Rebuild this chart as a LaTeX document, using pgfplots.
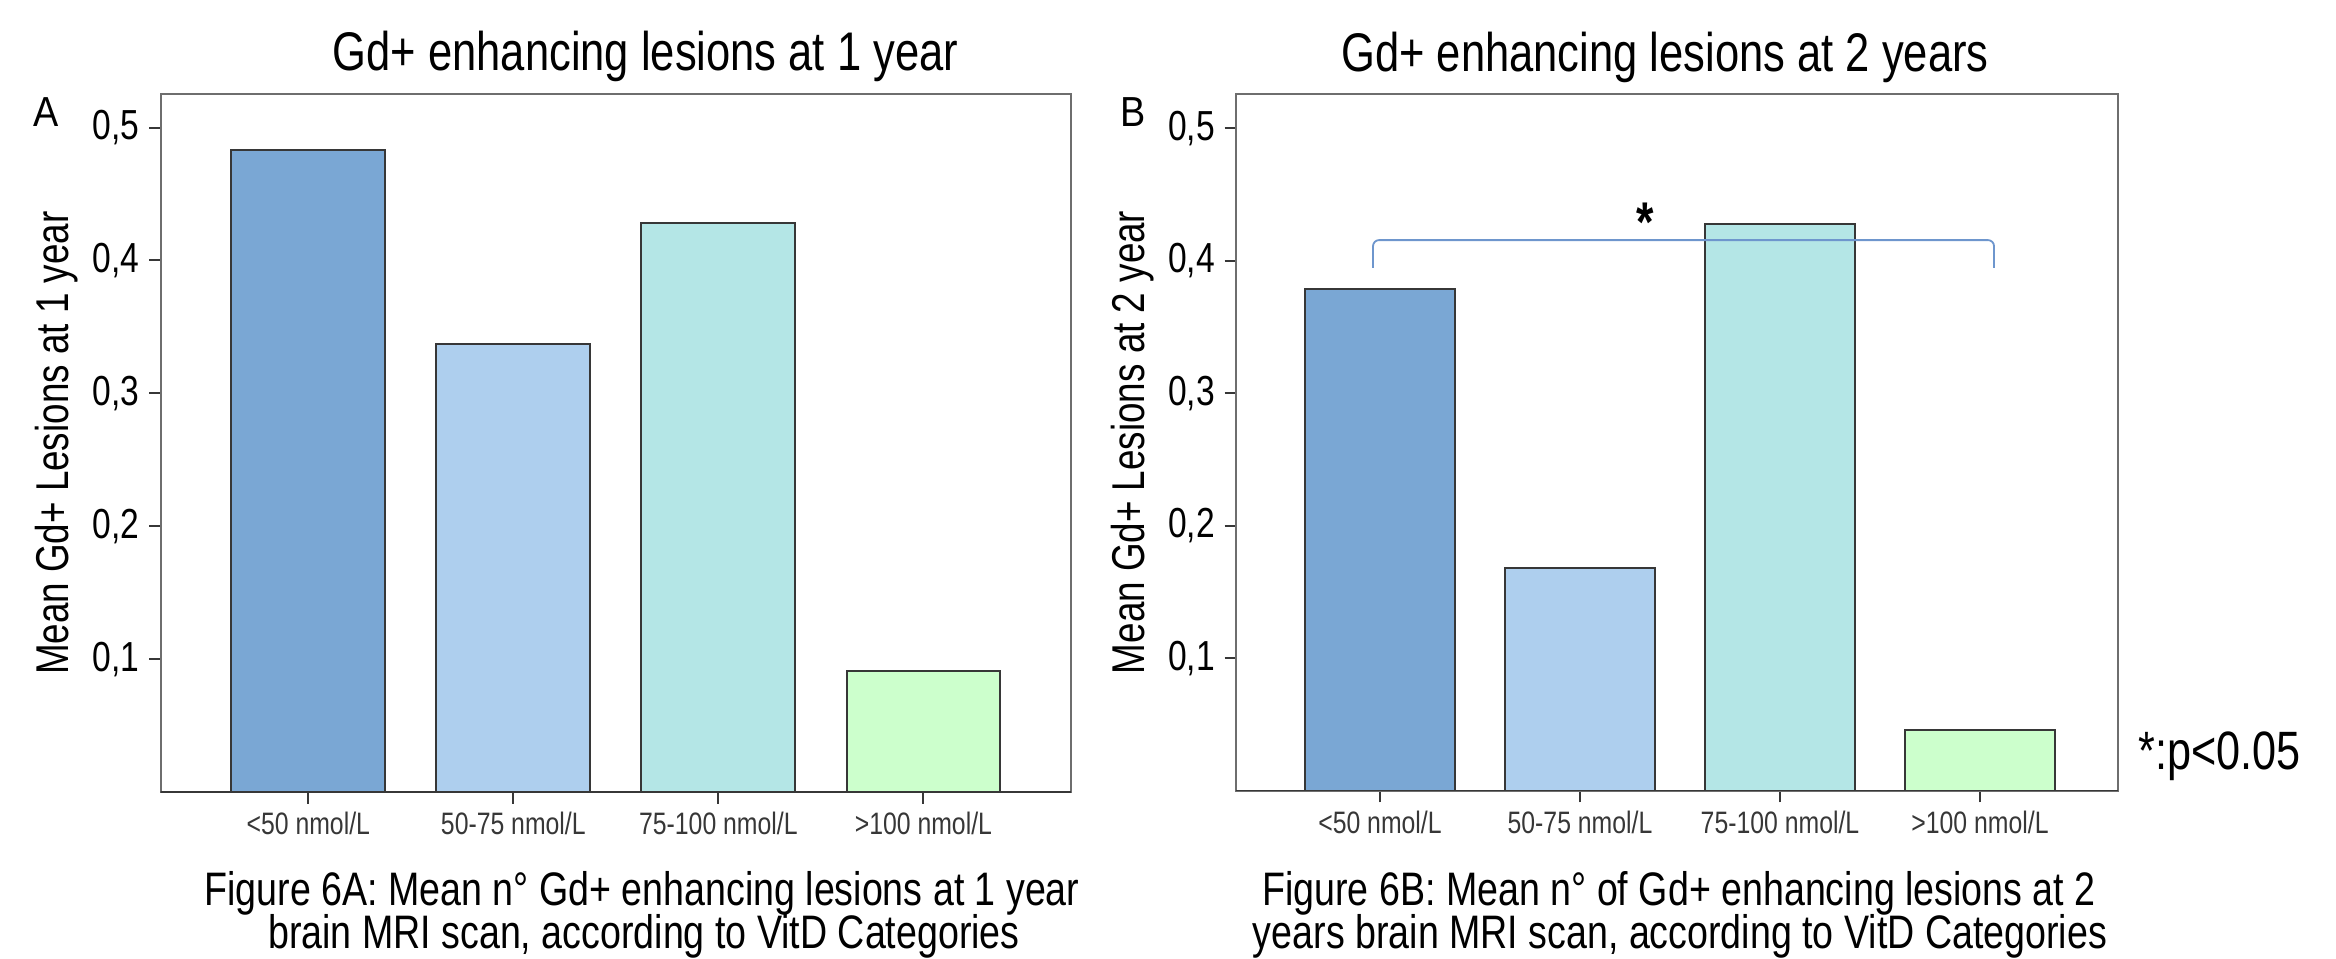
\documentclass[border=0pt]{standalone}
\usepackage{fontspec}
\setmainfont{Liberation Sans}[FakeStretch=0.8]
\newfontfamily\letterfont{Liberation Sans}[FakeStretch=0.9]
\usepackage{pgfplots}
\pgfplotsset{compat=1.18}
\definecolor{cA}{RGB}{122,167,212}
\definecolor{cB}{RGB}{174,207,238}
\definecolor{cC}{RGB}{180,230,230}
\definecolor{cD}{RGB}{204,255,204}
\definecolor{frame}{RGB}{110,110,110}
\definecolor{edge}{RGB}{55,55,55}
\definecolor{brk}{RGB}{110,150,205}
\pgfplotstableread{
x y
0 0.483
1 0.337
2 0.428
3 0.091
}\tabA
\pgfplotstableread{
x y
0 0.379
1 0.168
2 0.428
3 0.046
}\tabB
\pgfplotsset{
  panel/.style={
    scale only axis,
    ymin=0,
    xtick={0,1,2,3},
    xticklabels={{<50 nmol/L},{50-75 nmol/L},{75-100 nmol/L},{>100 nmol/L}},
    ytick={0.1,0.2,0.3,0.4,0.5},
    yticklabels={{0,1},{0,2},{0,3},{0,4},{0,5}},
    tick align=outside,
    major tick length=5.75pt,
    xtick pos=bottom, ytick pos=left,
    axis line style={draw=frame, line width=1pt},
    major tick style={draw=edge, line width=1pt},
    yticklabel style={font=\fontsize{21}{21}\selectfont, inner sep=0pt, xshift=-4.6pt},
    xticklabel style={font=\fontsize{15.5}{15.5}\selectfont, text=edge, inner sep=0pt, yshift=-4pt},
    title style={font=\fontsize{27.2}{27.2}\selectfont, anchor=base, inner sep=0pt},
    every axis y label/.style={at={(rel axis cs:0,0.5)}, xshift=-51.85pt, rotate=90, anchor=center, font=\fontsize{23}{23}\selectfont},
  },
  bb/.style={ybar, bar shift=0pt, bar width=0.75, draw=edge, line width=1pt, fill=#1},
}
\begin{document}
\begin{tikzpicture}
\path[use as bounding box] (0,0) rectangle (1168pt,479.5pt);
% Panel A
\begin{axis}[panel,
  at={(80.35pt,83.35pt)}, anchor=south west,
  width=455.15pt, height=349pt,
  xmin=-0.72, xmax=3.72, ymax=0.525,
  title={Gd+ enhancing lesions at 1 year},
  title style={at={(rel axis cs:0.5326,1)}, yshift=5.65pt},
  ylabel={Mean Gd+ Lesions at 1 year},
]
\addplot[bb=cA] table[x=x,y=y] {\tabA};
\end{axis}
\begin{axis}[panel,
  at={(80.35pt,83.35pt)}, anchor=south west,
  width=455.15pt, height=349pt,
  xmin=-0.72, xmax=3.72, ymin=0, ymax=0.525,
  axis lines=none, xtick=\empty, ytick=\empty,
]
\addplot[bb=cA] coordinates {(0,0.483)};
\addplot[bb=cB] coordinates {(1,0.337)};
\addplot[bb=cC] coordinates {(2,0.428)};
\addplot[bb=cD] coordinates {(3,0.091)};
\draw[frame, line width=1pt] (rel axis cs:0,0) rectangle (rel axis cs:1,1);
\draw[edge, line width=1.1pt] ([xshift=-5.75pt]rel axis cs:0,0) -- (rel axis cs:1,0);
\end{axis}
% Panel B
\begin{axis}[panel,
  at={(618pt,84.1pt)}, anchor=south west,
  width=441pt, height=348.4pt,
  xmin=-0.72, xmax=3.69, ymax=0.526,
  title={Gd+ enhancing lesions at 2 years},
  title style={at={(rel axis cs:0.4864,1)}, yshift=5pt},
  ylabel={Mean Gd+ Lesions at 2 year},
]
\addplot[bb=cA] table[x=x,y=y] {\tabB};
\end{axis}
\begin{axis}[panel,
  at={(618pt,84.1pt)}, anchor=south west,
  width=441pt, height=348.4pt,
  xmin=-0.72, xmax=3.69, ymin=0, ymax=0.526,
  axis lines=none, xtick=\empty, ytick=\empty,
]
\addplot[bb=cA] coordinates {(0,0.379)};
\addplot[bb=cB] coordinates {(1,0.168)};
\addplot[bb=cC] coordinates {(2,0.428)};
\addplot[bb=cD] coordinates {(3,0.046)};
\draw[frame, line width=1pt] (rel axis cs:0,0) rectangle (rel axis cs:1,1);
\draw[edge, line width=1.1pt] ([xshift=-5.75pt]rel axis cs:0,0) -- (rel axis cs:1,0);
\draw[brk, line width=0.9pt, rounded corners=3pt] (axis cs:-0.035,0.3947) -- (axis cs:-0.035,0.4157) -- (axis cs:3.07,0.4157) -- (axis cs:3.07,0.3947);
\node[font=\bfseries\fontsize{28}{28}\selectfont, inner sep=0pt, yshift=-4.5pt] at (axis cs:1.325,0.436) {*};
\end{axis}
% Panel letters and notes
\node[anchor=base west, inner sep=0pt, font=\letterfont\fontsize{21}{21}\selectfont] at (16.5pt,416pt) {A};
\node[anchor=base west, inner sep=0pt, font=\letterfont\fontsize{21}{21}\selectfont] at (560pt,416pt) {B};
\node[anchor=base west, inner sep=0pt, font=\fontsize{27}{27}\selectfont] at (1069pt,94.5pt) {*:p<0.05};
% Captions
\node[anchor=base, inner sep=0pt, font=\fontsize{23.5}{23.5}\selectfont] at (321pt,27pt) {Figure 6A: Mean n° Gd+ enhancing lesions at 1 year};
\node[anchor=base, inner sep=0pt, font=\fontsize{23.5}{23.5}\selectfont] at (322pt,5.2pt) {brain MRI scan, according to VitD Categories};
\node[anchor=base, inner sep=0pt, font=\fontsize{23.5}{23.5}\selectfont] at (839.5pt,27pt) {Figure 6B: Mean n° of Gd+ enhancing lesions at 2};
\node[anchor=base, inner sep=0pt, font=\fontsize{23.5}{23.5}\selectfont] at (840pt,5.2pt) {years brain MRI scan, according to VitD Categories};
\end{tikzpicture}
\end{document}
